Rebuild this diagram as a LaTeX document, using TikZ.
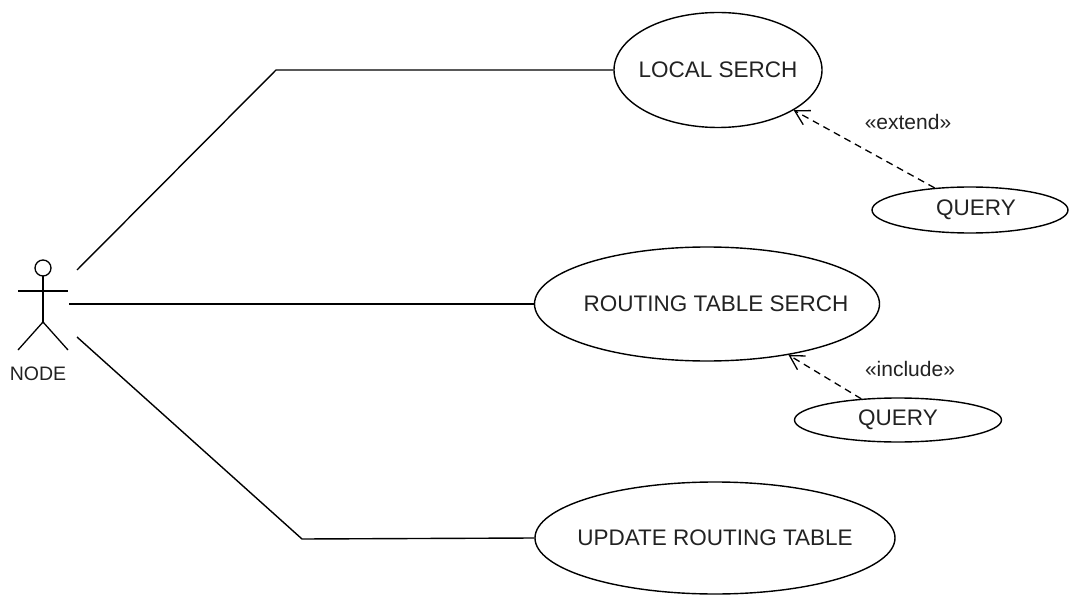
\documentclass[tikz,border=0pt]{standalone}
\usepackage{fontspec}
\setmainfont{Liberation Sans}
\usetikzlibrary{shapes.geometric,arrows.meta}
\definecolor{ink}{HTML}{222222}
\tikzset{
  usecase/.style={ellipse, draw=black, line width=1.4pt, fill=white, inner sep=0pt},
  uctext/.style={text=ink, font=\fontsize{22.5}{26}\selectfont},
  assoc/.style={draw=black, line width=1.4pt},
  dep/.style={draw=black, line width=1.3pt, dash pattern=on 7pt off 5pt,
    -{Straight Barb[length=14pt,width=16pt,line width=1.3pt]}},
  stereo/.style={text=ink, font=\fontsize{21}{25}\selectfont},
  stick/.style={draw=black, line width=1.3pt}
}
\begin{document}
\begin{tikzpicture}[x=1pt,y=-1pt]
  \useasboundingbox[fill=white] (0,0) rectangle (1071,596);

  % actor
  \draw[stick] (43,268) circle (8);
  \draw[stick] (18,291) -- (68,291);
  \draw[stick] (43,276) -- (43,322);
  \draw[stick] (18,350) -- (43,322) -- (68,350);
  \node[text=ink, font=\fontsize{19.5}{23}\selectfont] (actor) at (38,374) {NODE};
  \coordinate (a1) at (77,270);
  \coordinate (a2) at (69,304);
  \coordinate (a3) at (77,337);
  \coordinate (b1) at (276,70);
  \coordinate (b3) at (302,539);

  % use cases (outline sized by hand, caption placed on top)
  \node[usecase, minimum width=208pt, minimum height=115pt,
        label={[uctext]center:LOCAL SERCH}] (ls) at (718,70) {};
  \node[usecase, minimum width=196pt, minimum height=46pt,
        label={[uctext, xshift=6pt]center:QUERY}] (q1) at (970,210) {};
  \node[usecase, minimum width=345pt, minimum height=114pt,
        label={[uctext, xshift=9pt]center:ROUTING TABLE SERCH}] (rts) at (707,304) {};
  \node[usecase, minimum width=207pt, minimum height=44pt,
        label={[uctext]center:QUERY}] (q2) at (898,420) {};
  \node[usecase, minimum width=360pt, minimum height=112pt,
        label={[uctext]center:UPDATE ROUTING TABLE}] (urt) at (715,538) {};

  % associations
  \draw[assoc] (a1) -- (b1) -- (ls.west);
  \draw[assoc] (a2) -- (rts.west);
  \draw[assoc] (a3) -- (b3) -- (urt.west);

  % dependencies
  \draw[dep] (q1.148) -- (ls.-28);
  \draw[dep] (q2.150) -- (rts.-32);
  \node[stereo] (ext) at (908,122) {«extend»};
  \node[stereo] (inc) at (910,369) {«include»};
\end{tikzpicture}
\end{document}
